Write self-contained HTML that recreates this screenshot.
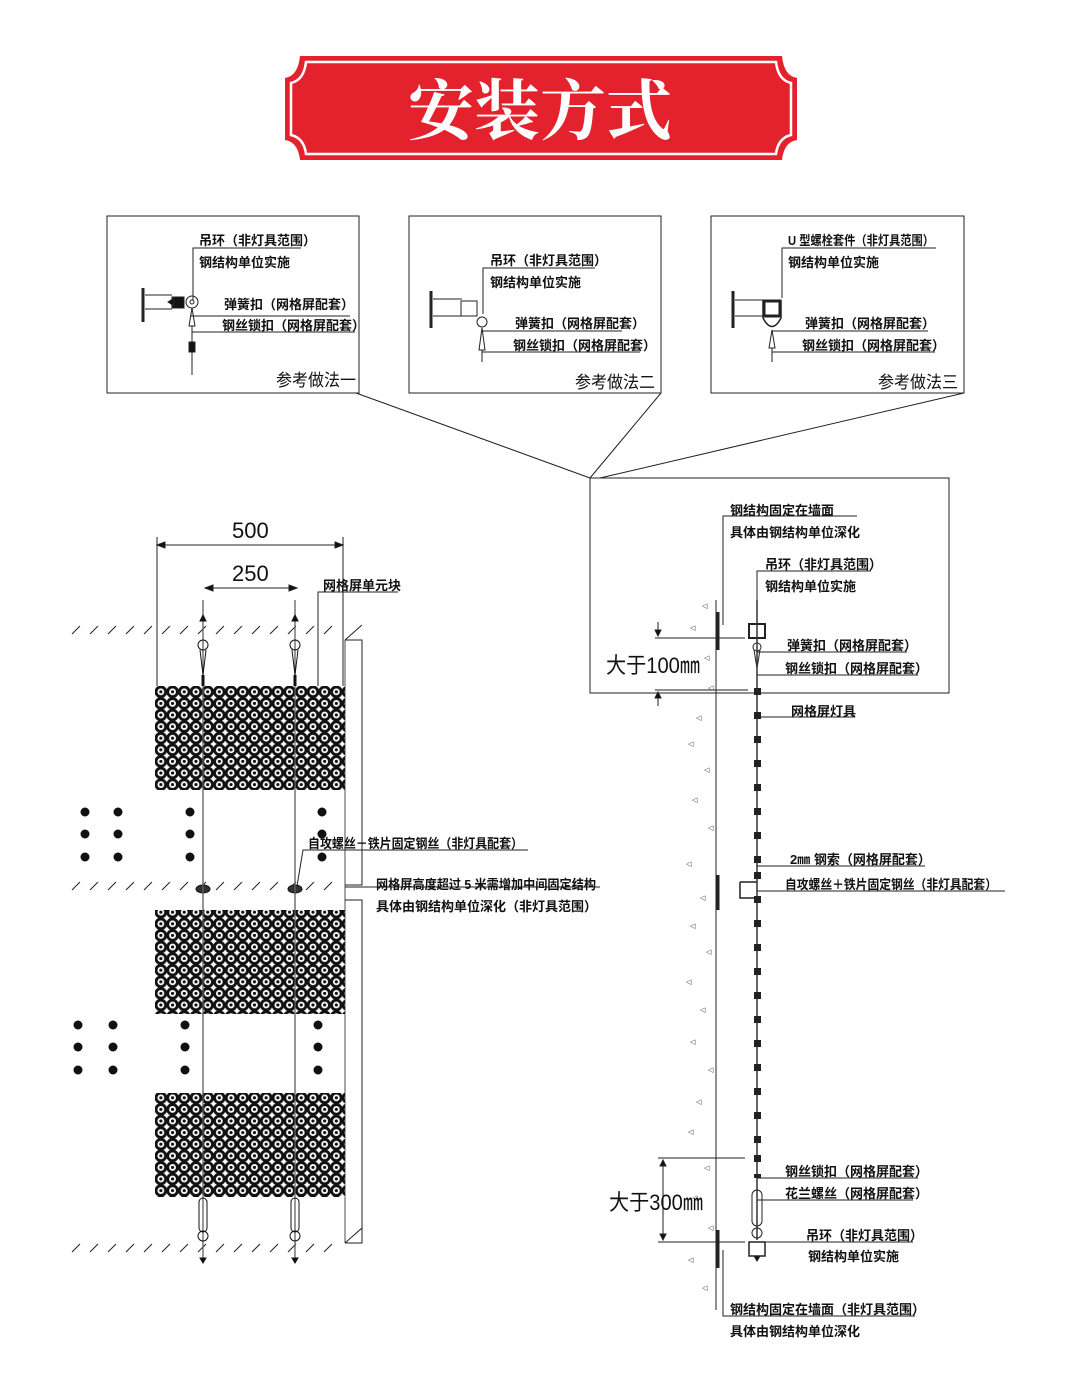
<!DOCTYPE html>
<html><head><meta charset="utf-8"><style>
html,body{margin:0;padding:0;background:#fff;}
svg{display:block;}
.t{font-family:"Liberation Sans","Noto Sans CJK SC",sans-serif;font-size:13px;font-weight:bold;fill:#111;}
.b{font-family:"Liberation Sans","Noto Sans CJK SC",sans-serif;font-size:17px;fill:#111;}
.d{font-family:"Liberation Sans","Noto Sans CJK SC",sans-serif;font-size:22px;fill:#111;}
</style></head><body>
<svg width="1080" height="1387" viewBox="0 0 1080 1387" xmlns="http://www.w3.org/2000/svg">
<defs>
<pattern id="mesh" x="155" y="686" width="11.7" height="11.6" patternUnits="userSpaceOnUse">
<rect width="11.7" height="11.6" fill="#fff"/>
<circle cx="5.85" cy="5.8" r="6.3" fill="#111"/>
<circle cx="5.85" cy="5.8" r="3.4" fill="#fff"/>
<circle cx="5.85" cy="5.8" r="1.6" fill="#111"/>
</pattern>
<g id="hatch" stroke="#222" stroke-width="1">
<path d="M72,10 l8,-8 M90,10 l8,-8 M108,10 l8,-8 M126,10 l8,-8 M144,10 l8,-8 M162,10 l8,-8 M180,10 l8,-8 M198,10 l8,-8 M216,10 l8,-8 M234,10 l8,-8 M252,10 l8,-8 M270,10 l8,-8 M288,10 l8,-8 M306,10 l8,-8 M324,10 l8,-8"/>
</g>
</defs>

<!-- Banner -->
<path d="M300,56 H782 Q784,76 797,78 V140 Q784,142 782,160 H300 Q298,142 285,140 V78 Q298,76 300,56Z" fill="#e4222e"/>
<path d="M306,62 H776 Q778,80 791,83 V135 Q778,138 776,154 H306 Q304,138 291,135 V83 Q304,80 306,62Z" fill="none" stroke="#fff" stroke-width="2.5"/>
<text x="540" y="134" text-anchor="middle" font-family="'Liberation Serif','Noto Serif CJK SC',serif" font-size="66" font-weight="bold" fill="#fff">安装方式</text>

<!-- Top boxes -->
<g fill="none" stroke="#222" stroke-width="1">
<rect x="107" y="216" width="252" height="177"/>
<rect x="409" y="216" width="252" height="177"/>
<rect x="711" y="216" width="253" height="177"/>
<path d="M356,393 L590,478 M661,393 L590,478 M964,393 L600,478"/>
<rect x="590" y="478" width="359" height="215"/>
</g>

<!-- box 1 -->
<g stroke="#222" fill="none">
<path d="M143,288 V322" stroke-width="3"/>
<path d="M145,295 H172 M145,309 H172"/>
<rect x="172" y="297" width="12" height="11" fill="#111"/>
<path d="M168,302 l6,-4 v8z" fill="#111"/>
<circle cx="192" cy="302" r="6"/><circle cx="192" cy="302" r="2"/>
<path d="M193,300 V248 H301"/>
<path d="M192,308 l-3,18 h6z M192,326 V375"/>
<rect x="189" y="342" width="6" height="10" fill="#111"/>
<path d="M190,316 H350 M192,332 H355"/>
</g>
<text class="t" x="199" y="245">吊环（非灯具范围）</text>
<text class="t" x="199" y="267">钢结构单位实施</text>
<text class="t" x="224" y="309">弹簧扣（网格屏配套）</text>
<text class="t" x="222" y="330">钢丝锁扣（网格屏配套）</text>
<text class="b" x="276" y="386" textLength="80" lengthAdjust="spacingAndGlyphs">参考做法一</text>

<!-- box 2 -->
<g stroke="#222" fill="none">
<path d="M431,291 V328" stroke-width="3"/>
<path d="M433,299 H462 M433,316 H477"/>
<rect x="461" y="301" width="16" height="15"/>
<circle cx="482" cy="322" r="5"/>
<path d="M483,314 V268 H595"/>
<path d="M482,328 l-3,22 h6z M482,350 V362"/>
<path d="M482,331 H622 M482,352 H640"/>
</g>
<text class="t" x="490" y="265">吊环（非灯具范围）</text>
<text class="t" x="490" y="287">钢结构单位实施</text>
<text class="t" x="515" y="328">弹簧扣（网格屏配套）</text>
<text class="t" x="513" y="350">钢丝锁扣（网格屏配套）</text>
<text class="b" x="575" y="388" textLength="80" lengthAdjust="spacingAndGlyphs">参考做法二</text>

<!-- box 3 -->
<g stroke="#222" fill="none">
<path d="M733,291 V328" stroke-width="3"/>
<path d="M735,300 H764 M735,316 H764"/>
<rect x="764" y="301" width="16" height="15" stroke-width="3"/>
<path d="M763,300 V318 Q772,335 781,318 V300" stroke-width="1.5"/>
<path d="M782,298 V248 H936"/>
<path d="M772,330 l-3,18 h6z M772,348 V362"/>
<path d="M772,331 H928 M772,352 H935"/>
</g>
<text class="t" x="788" y="245" textLength="146" lengthAdjust="spacingAndGlyphs">U 型螺栓套件（非灯具范围）</text>
<text class="t" x="788" y="267">钢结构单位实施</text>
<text class="t" x="805" y="328">弹簧扣（网格屏配套）</text>
<text class="t" x="802" y="350">钢丝锁扣（网格屏配套）</text>
<text class="b" x="878" y="388" textLength="80" lengthAdjust="spacingAndGlyphs">参考做法三</text>

<!-- Left drawing: dimensions -->
<g stroke="#222" fill="none">
<path d="M157,537 V686 M343,537 V686 M157,545 H343"/>
<path d="M157,545 l8,-3 v6z M343,545 l-8,-3 v6z" fill="#111"/>
<path d="M205,588 H297"/>
<path d="M205,588 l8,-3 v6z M297,588 l-8,-3 v6z" fill="#111"/>
</g>
<text class="d" x="232" y="538">500</text>
<text class="d" x="232" y="581">250</text>

<use href="#hatch" y="624"/>
<use href="#hatch" y="880"/>
<use href="#hatch" y="1242"/>

<g stroke="#222" fill="none">
<path d="M345,640 H362 V885 H345 M345,900 H362 V1243 H345"/>
<path d="M345,640 V1243" stroke-width="0.8"/>
<path d="M345,887 H600"/>
<path d="M345,640 l17,-15 M345,1243 l17,-15"/>
</g>

<g stroke="#555" stroke-width="1.2">
<path d="M203,600 V1262 M295,600 V1262"/>
</g>
<g stroke="#111" fill="none">
<path d="M203,615 l-3,6 h6z M295,615 l-3,6 h6z" fill="#111"/>
<circle cx="203" cy="645" r="5"/><circle cx="295" cy="645" r="5"/>
<path d="M200,650 l3,25 l3,-25 M292,650 l3,25 l3,-25"/>
<path d="M203,675 V686 M295,675 V686" stroke-width="3"/>
<ellipse cx="203" cy="889" rx="7" ry="4" fill="#333"/><ellipse cx="295" cy="889" rx="7" ry="4" fill="#333"/>
<rect x="199" y="1198" width="8" height="34" rx="4"/><rect x="291" y="1198" width="8" height="34" rx="4"/>
<circle cx="203" cy="1236" r="5"/><circle cx="295" cy="1236" r="5"/>
<path d="M200,1258 l3,5 l3,-5z M292,1258 l3,5 l3,-5z" fill="#111"/>
</g>

<rect x="155" y="686" width="190" height="104" fill="url(#mesh)"/>
<rect x="155" y="910" width="190" height="104" fill="url(#mesh)"/>
<rect x="155" y="1093" width="190" height="104" fill="url(#mesh)"/>
<g stroke="#666" stroke-width="1.2"><path d="M203,686 V1197 M295,686 V1197"/></g>

<g fill="#111">
<circle cx="85" cy="812" r="4.5"/><circle cx="118" cy="812" r="4.5"/><circle cx="190" cy="812" r="4.5"/><circle cx="322" cy="812" r="4.5"/>
<circle cx="85" cy="834" r="4.5"/><circle cx="118" cy="834" r="4.5"/><circle cx="190" cy="834" r="4.5"/><circle cx="322" cy="834" r="4.5"/>
<circle cx="85" cy="857" r="4.5"/><circle cx="118" cy="857" r="4.5"/><circle cx="190" cy="857" r="4.5"/><circle cx="322" cy="857" r="4.5"/>
<circle cx="78" cy="1025" r="4.5"/><circle cx="113" cy="1025" r="4.5"/><circle cx="185" cy="1025" r="4.5"/><circle cx="318" cy="1025" r="4.5"/>
<circle cx="78" cy="1047" r="4.5"/><circle cx="113" cy="1047" r="4.5"/><circle cx="185" cy="1047" r="4.5"/><circle cx="318" cy="1047" r="4.5"/>
<circle cx="78" cy="1070" r="4.5"/><circle cx="113" cy="1070" r="4.5"/><circle cx="185" cy="1070" r="4.5"/><circle cx="318" cy="1070" r="4.5"/>
</g>

<g stroke="#222" fill="none">
<path d="M318,686 V592 H398"/>
<path d="M297,886 L303,850 H528"/>
</g>
<text class="t" x="323" y="590">网格屏单元块</text>
<text class="t" x="308" y="848" textLength="215" lengthAdjust="spacingAndGlyphs">自攻螺丝－铁片固定钢丝（非灯具配套）</text>
<text class="t" x="376" y="889" textLength="220" lengthAdjust="spacingAndGlyphs">网格屏高度超过 5 米需增加中间固定结构</text>
<text class="t" x="376" y="911">具体由钢结构单位深化（非灯具范围）</text>

<!-- Right drawing -->
<g stroke="#222" fill="none">
<path d="M716,600 V1310"/>
<path d="M718,612 V650 M718,875 V910 M718,1230 V1268" stroke-width="3"/>
<path d="M723,625 V516 H857"/>
<path d="M757,620 V571 H871"/>
<rect x="749" y="624" width="16" height="14" stroke-width="2"/>
<circle cx="757" cy="647" r="4"/>
<path d="M754,650 l3,18 l3,-18"/>
<path d="M757,600 V1240" stroke="#333" stroke-width="1.5"/>
<path d="M757,652 H907 M757,675 H918 M757,717 H855 M757,866 H925 M757,891 H1005 M757,1178 H918 M757,1200 H913 M757,1242 H913"/>
<path d="M740,882 H757 M740,882 V898 H757" stroke-width="1.5"/>
<rect x="752" y="1190" width="10" height="36" rx="5"/>
<circle cx="757" cy="1233" r="5"/>
<rect x="749" y="1242" width="16" height="14" stroke-width="1.5"/>
<path d="M754,1256 l3,5 l3,-5z" fill="#111"/>
<path d="M723,1250 V1316 H915"/>
<path d="M655,638 H745 M655,690 H748 M658,622 V636 M658,692 V706"/>
<path d="M658,636 l-3,-6 h6z M658,692 l-3,6 h6z" fill="#111"/>
<path d="M658,1158 H745 M658,1242 H745 M663,1160 V1240"/>
<path d="M663,1160 l-3,6 h6z M663,1240 l-3,-6 h6z" fill="#111"/>
</g>
<g fill="#222">
<rect x="754" y="688" width="7" height="7"/><rect x="754" y="712" width="7" height="7"/><rect x="754" y="736" width="7" height="7"/><rect x="754" y="760" width="7" height="7"/>
<rect x="754" y="784" width="7" height="7"/><rect x="754" y="808" width="7" height="7"/><rect x="754" y="832" width="7" height="7"/><rect x="754" y="856" width="7" height="7"/>
<rect x="754" y="872" width="7" height="7"/><rect x="754" y="896" width="7" height="7"/><rect x="754" y="920" width="7" height="7"/><rect x="754" y="944" width="7" height="7"/>
<rect x="754" y="968" width="7" height="7"/><rect x="754" y="992" width="7" height="7"/><rect x="754" y="1016" width="7" height="7"/><rect x="754" y="1040" width="7" height="7"/>
<rect x="754" y="1064" width="7" height="7"/><rect x="754" y="1088" width="7" height="7"/><rect x="754" y="1112" width="7" height="7"/><rect x="754" y="1136" width="7" height="7"/>
<rect x="754" y="1155" width="7" height="7"/><rect x="754" y="1174" width="7" height="4"/>
</g>
<g font-family="'Liberation Sans',sans-serif" font-size="7" fill="#333">
<text x="702" y="608">◁</text><text x="690" y="630">◁</text><text x="704" y="660">◁</text><text x="708" y="690">◁</text>
<text x="696" y="720">◁</text><text x="688" y="746">◁</text><text x="704" y="772">◁</text><text x="692" y="802">◁</text>
<text x="708" y="830">◁</text><text x="686" y="866">◁</text><text x="700" y="900">◁</text><text x="690" y="928">◁</text>
<text x="706" y="954">◁</text><text x="686" y="984">◁</text><text x="700" y="1012">◁</text><text x="690" y="1044">◁</text>
<text x="708" y="1072">◁</text><text x="696" y="1104">◁</text><text x="688" y="1134">◁</text><text x="704" y="1170">◁</text>
<text x="692" y="1200">◁</text><text x="708" y="1230">◁</text><text x="688" y="1262">◁</text><text x="702" y="1290">◁</text>
</g>
<text class="t" x="730" y="515">钢结构固定在墙面</text>
<text class="t" x="730" y="537">具体由钢结构单位深化</text>
<text class="t" x="765" y="569">吊环（非灯具范围）</text>
<text class="t" x="765" y="591">钢结构单位实施</text>
<text class="t" x="787" y="650">弹簧扣（网格屏配套）</text>
<text class="t" x="785" y="673">钢丝锁扣（网格屏配套）</text>
<text class="t" x="791" y="716">网格屏灯具</text>
<text class="t" x="790" y="864">2㎜ 钢索（网格屏配套）</text>
<text class="t" x="785" y="889" textLength="212" lengthAdjust="spacingAndGlyphs">自攻螺丝＋铁片固定钢丝（非灯具配套）</text>
<text class="t" x="785" y="1176">钢丝锁扣（网格屏配套）</text>
<text class="t" x="785" y="1198">花兰螺丝（网格屏配套）</text>
<text class="t" x="806" y="1240">吊环（非灯具范围）</text>
<text class="t" x="808" y="1261">钢结构单位实施</text>
<text class="t" x="730" y="1314">钢结构固定在墙面（非灯具范围）</text>
<text class="t" x="730" y="1336">具体由钢结构单位深化</text>
<text class="d" x="606" y="673" textLength="94" lengthAdjust="spacingAndGlyphs">大于100㎜</text>
<text class="d" x="609" y="1210" textLength="94" lengthAdjust="spacingAndGlyphs">大于300㎜</text>
</svg>
</body></html>
